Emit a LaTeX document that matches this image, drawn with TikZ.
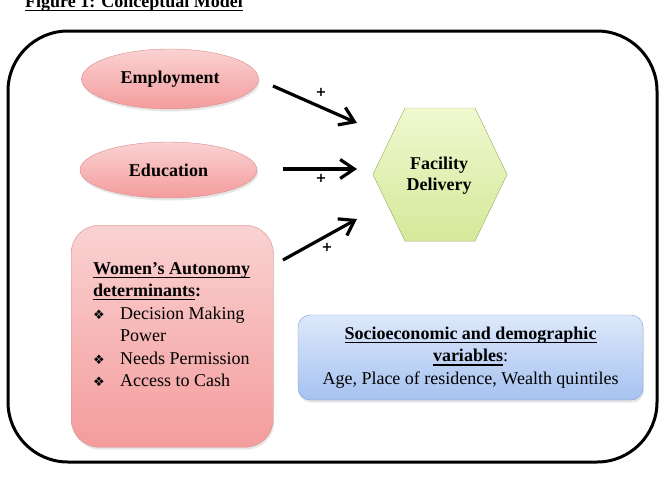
\documentclass[tikz,border=0pt]{standalone}
\usepackage{fontspec}
\setmainfont{Liberation Serif}
\newfontfamily\dingfont{DejaVu Sans}
\usepackage{xcolor}
\usetikzlibrary{positioning,shapes.geometric,arrows.meta,calc,shadows}

\definecolor{pinktop}{HTML}{FAD2D2}
\definecolor{pinkbot}{HTML}{F49C9C}
\definecolor{pinkline}{HTML}{D98C8C}
\definecolor{greentop}{HTML}{F0F8D0}
\definecolor{greenbot}{HTML}{D4E99A}
\definecolor{greenline}{HTML}{B2C87A}
\definecolor{bluetop}{HTML}{DDE8FB}
\definecolor{bluebot}{HTML}{A6C2F0}
\definecolor{blueline}{HTML}{7A9ED6}

\newsavebox\ulbox
\newcommand{\uln}[1]{\sbox\ulbox{#1}\rlap{\rule[-3.8pt]{\wd\ulbox}{1.2pt}}\usebox\ulbox}
\newcommand{\bul}{\makebox[27pt][l]{\dingfont\fontsize{13}{13}\selectfont ❖}}

\begin{document}
\begin{tikzpicture}[x=1pt, y=-1pt,
  txt/.style={font=\fontsize{18}{22.5}\selectfont},
  soft/.style={drop shadow={shadow xshift=1pt, shadow yshift=-2.5pt, opacity=0.2}},
  factor/.style={ellipse, draw=pinkline, top color=pinktop, bottom color=pinkbot,
    inner sep=0pt, minimum width=177pt, soft, font=\bfseries\fontsize{18}{22}\selectfont},
  conn/.style={line width=3.2pt, -{Straight Barb[length=14pt, width=19pt]}},
  plus/.style={font=\dingfont\bfseries\fontsize{13}{13}\selectfont, inner sep=0pt}]

% Page
\useasboundingbox (0,0) rectangle (663,490);
\clip (0,0) rectangle (663,490);

% Title
\node[anchor=base west, inner sep=0pt, font=\bfseries\fontsize{18}{22}\selectfont] (title) at (25,7) {\uln{Figure 1: Conceptual Model}};

% Frame
\draw[line width=3pt, rounded corners=60pt] (8,31) rectangle (657,462);

% Determinants
\node[factor, minimum height=60pt] (emp) at (170,79) {Employment};
\node[factor, minimum height=56pt] (edu) at (168.5,170) {Education};

\node[draw=pinkline, top color=pinktop, bottom color=pinkbot, rounded corners=28pt, soft,
  minimum width=202pt, minimum height=222pt, anchor=north west] (wa) at (71,225) {};
\node[txt, anchor=north west, align=left, inner sep=0pt] (watext) at (93,262)
  {\uln{\textbf{Women’s Autonomy}}\\
   \uln{\textbf{determinants}}\textbf{:}\\
   \bul Decision Making\\
   \hspace*{27pt}Power\\
   \bul Needs Permission\\
   \bul Access to Cash};

% Outcome
\coordinate (fdc) at (440,174.5);
\fill[top color=greentop, bottom color=greenbot, draw=greenline]
  ($(fdc)+(-67,0)$) -- ($(fdc)+(-35,-66.5)$) -- ($(fdc)+(35,-66.5)$) -- ($(fdc)+(67,0)$)
  -- ($(fdc)+(35,66.5)$) -- ($(fdc)+(-35,66.5)$) -- cycle;
\node[align=center, font=\bfseries\fontsize{18}{21}\selectfont] (fd) at (439,176) {Facility\\Delivery};

% Arrows
\coordinate (a1s) at (273,86);  \coordinate (a1e) at (357,123);
\coordinate (a2s) at (283,169); \coordinate (a2e) at (357,169);
\coordinate (a3s) at (283,260); \coordinate (a3e) at (357,219);
\draw[conn] (a1s) -- (a1e);
\draw[conn] (a2s) -- (a2e);
\draw[conn] (a3s) -- (a3e);
\node[plus] (p1) at (321,92) {+};
\node[plus] (p2) at (321,178) {+};
\node[plus] (p3) at (327,247) {+};

% Covariates
\node[txt, draw=blueline, top color=bluetop, bottom color=bluebot, rounded corners=12pt, soft,
  minimum width=345pt, minimum height=85pt, align=center] (sd) at (470.5,357.5)
  {\uln{\textbf{Socioeconomic and demographic}}\\
   \uln{\textbf{variables}}:\\
   Age, Place of residence, Wealth quintiles};

\end{tikzpicture}
\end{document}
